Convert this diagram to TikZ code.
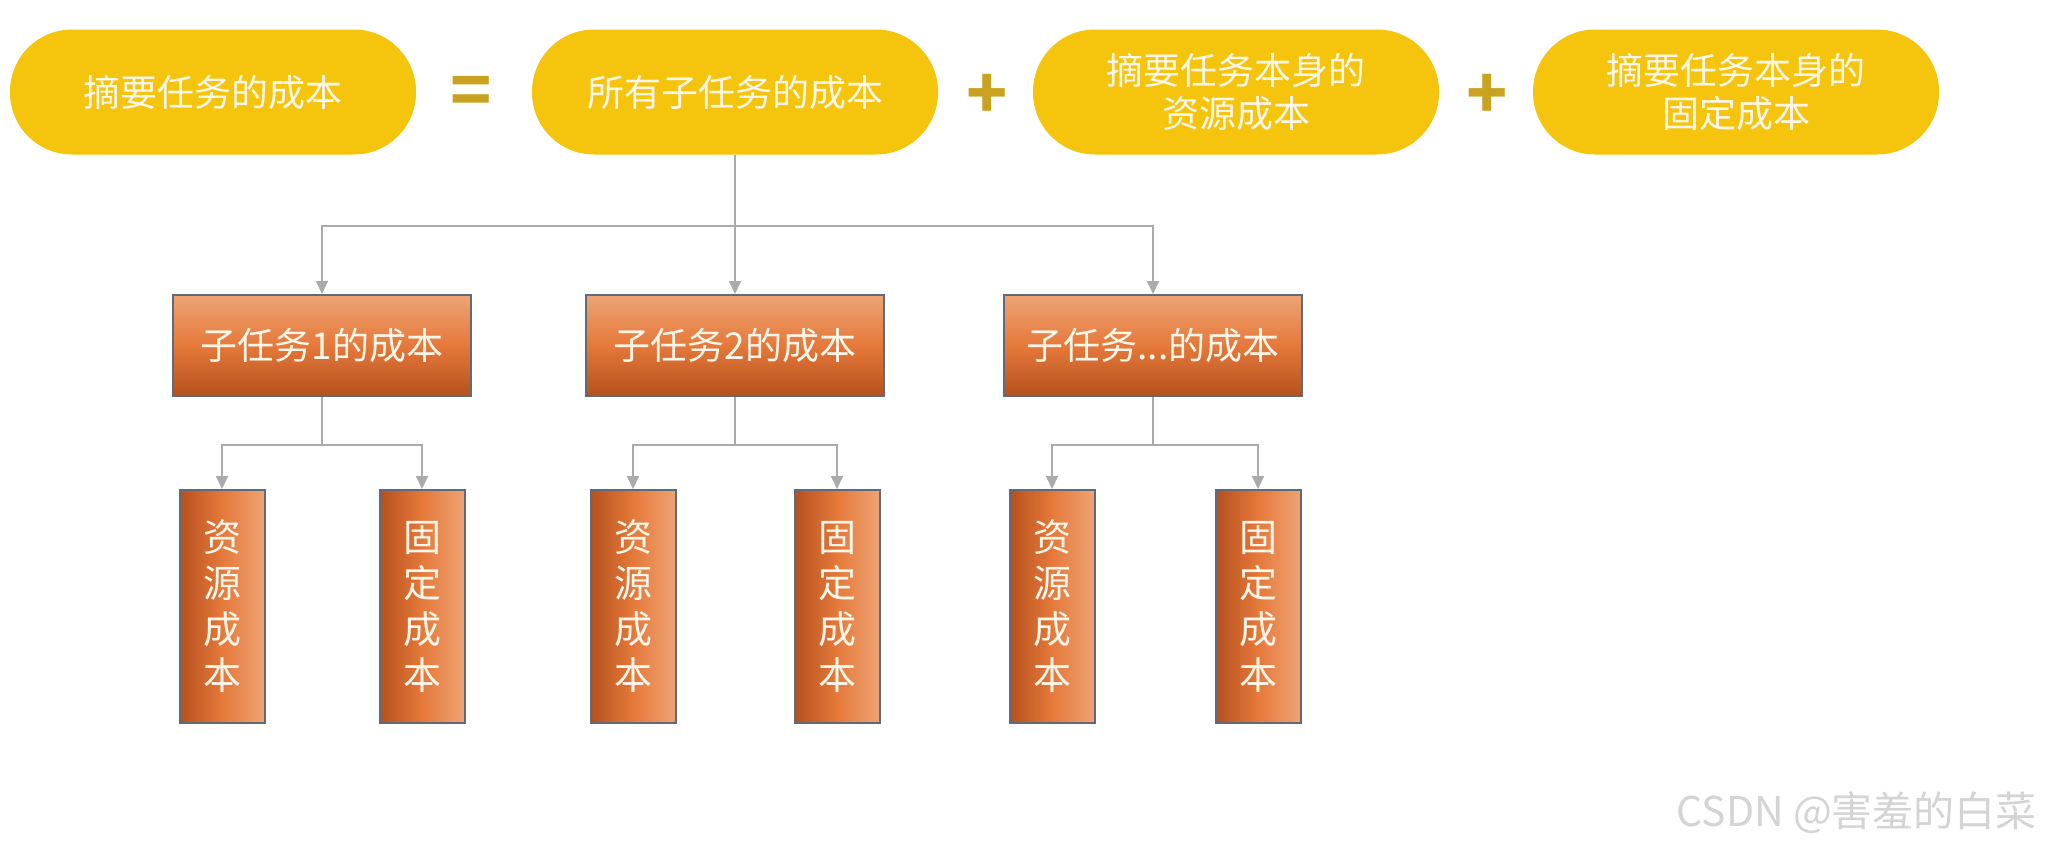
\documentclass[tikz,border=0pt]{standalone}
\usepackage{fontspec}
\setmainfont{Noto Sans CJK SC}
\usetikzlibrary{arrows.meta}

\definecolor{pillyellow}{HTML}{F5C40C}
\definecolor{signgold}{HTML}{C9A320}
\definecolor{boxlight}{HTML}{EEA474}
\definecolor{boxmid}{HTML}{E5793A}
\definecolor{boxdark}{HTML}{B5501D}
\definecolor{boxedge}{HTML}{5F6A7A}
\definecolor{linkgray}{HTML}{ABABAB}
\definecolor{labelwhite}{HTML}{FFF6EA}
\definecolor{markgray}{HTML}{D4D4D4}

\begin{document}
\begin{tikzpicture}
  [x=0.5pt, y=-0.5pt, ->, >={Triangle[width=6pt,length=6.5pt]},
    pill/.style={%
      rectangle, rounded corners=31pt, fill=pillyellow, text=labelwhite,
      minimum width=203pt, minimum height=62.5pt, align=center,
      font=\fontsize{18.5}{21.5}\selectfont
    },
    sign/.style={%
      text=signgold, font=\fontsize{34}{34}\selectfont\bfseries
    },
    subtask/.style={%
      rectangle, draw=boxedge, line width=1pt,
      top color=boxlight, bottom color=boxdark, middle color=boxmid,
      minimum width=149pt, minimum height=50.5pt, text=labelwhite,
      font=\fontsize{18.5}{21.5}\selectfont
    },
    part/.style={%
      rectangle, draw=boxedge, line width=1pt,
      left color=boxdark, right color=boxlight, middle color=boxmid,
      minimum width=42.5pt, minimum height=116.5pt, align=center,
      text=labelwhite, font=\fontsize{19}{23}\selectfont
    },
    link/.style={draw=linkgray, line width=1pt},
  ]

  \fill[white] (0,0) rectangle (2050,846);
  \useasboundingbox (0,0) rectangle (2050,846);

  % top row: the sum
  \node[pill] (p1) at (213,92) {摘要任务的成本};
  \node[sign] (eq) at (471,96) {=};
  \node[pill] (p2) at (735,92) {所有子任务的成本};
  \node[sign] (plus1) at (987,96) {+};
  \node[pill] (p3) at (1236,92) {摘要任务本身的\\资源成本};
  \node[sign] (plus2) at (1487,96) {+};
  \node[pill] (p4) at (1736,92) {摘要任务本身的\\固定成本};

  % sub tasks
  \node[subtask] (b1) at (322,345.5) {子任务1的成本};
  \node[subtask] (b2) at (735,345.5) {子任务2的成本};
  \node[subtask] (b3) at (1153,345.5) {子任务...的成本};

  \node[part] (r1) at (222,606.5) {资\\源\\成\\本};
  \node[part] (f1) at (422,606.5) {固\\定\\成\\本};
  \node[part] (r2) at (633,606.5) {资\\源\\成\\本};
  \node[part] (f2) at (837,606.5) {固\\定\\成\\本};
  \node[part] (r3) at (1052,606.5) {资\\源\\成\\本};
  \node[part] (f3) at (1258,606.5) {固\\定\\成\\本};

  \coordinate (j0) at (735,226);
  \coordinate (j1) at (322,445);
  \coordinate (j2) at (735,445);
  \coordinate (j3) at (1153,445);

  \draw[link] (p2) -- (b2);
  \draw[link] (j0) -| (b1);
  \draw[link] (j0) -| (b3);

  \draw[link,-] (b1) -- (j1);
  \draw[link] (j1) -| (r1);
  \draw[link] (j1) -| (f1);

  \draw[link,-] (b2) -- (j2);
  \draw[link] (j2) -| (r2);
  \draw[link] (j2) -| (f2);

  \draw[link,-] (b3) -- (j3);
  \draw[link] (j3) -| (r3);
  \draw[link] (j3) -| (f3);

  \node[text=markgray, anchor=east, font=\fontsize{20.5}{24}\selectfont]
    (mark) at (2044,813) {CSDN @害羞的白菜};

\end{tikzpicture}
\end{document}
